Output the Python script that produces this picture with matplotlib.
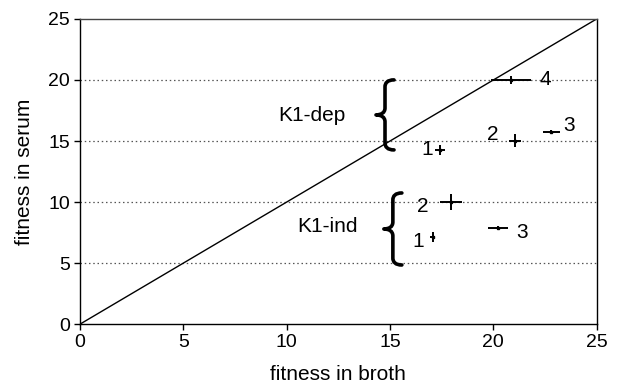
import matplotlib
matplotlib.use("Agg")
import matplotlib.pyplot as plt
import matplotlib.transforms as mtransforms
from matplotlib.path import Path
from matplotlib.patches import PathPatch

plt.rcParams['font.family'] = ['Liberation Sans', 'DejaVu Sans']

# K1-dependent strains
dep_labels = ['1', '2', '3', '4']
dep_broth = [17.42, 21.04, 22.8, 20.84]
dep_serum = [14.28, 15.04, 15.77, 20.0]
dep_xerr = [0.25, 0.3, 0.4, 0.97]
dep_yerr = [0.4, 0.55, 0.12, 0.3]

# K1-independent strains
ind_labels = ['1', '2', '3']
ind_broth = [17.06, 17.93, 20.22]
ind_serum = [7.17, 9.99, 7.89]
ind_xerr = [0.1, 0.53, 0.5]
ind_yerr = [0.4, 0.64, 0.15]

# label positions (data coordinates)
dep_lab_x = [16.82, 19.98, 23.66, 22.5]
dep_lab_y = [14.28, 15.5, 16.3, 20.0]
ind_lab_x = [16.35, 16.6, 21.37]
ind_lab_y = [6.77, 9.6, 7.5]

xticks = [0, 5, 10, 15, 20, 25]
yticks = [0, 5, 10, 15, 20, 25]

fig = plt.figure(figsize=(6.19, 3.86), dpi=100)
ax = fig.add_axes([0.129, 0.160, 0.835, 0.791])

for yv in [5, 10, 15, 20]:
    ax.axhline(yv, color='#555555', linestyle=(0, (1.2, 2.2)), linewidth=0.9, zorder=1)

ax.plot([0, 25], [0, 25], color='black', linewidth=1.0, zorder=2)

ax.errorbar(dep_broth, dep_serum, xerr=dep_xerr, yerr=dep_yerr, fmt='s', ms=1.6,
            color='black', ecolor='black', elinewidth=1.4, capsize=0, zorder=3)
ax.errorbar(ind_broth, ind_serum, xerr=ind_xerr, yerr=ind_yerr, fmt='s', ms=1.6,
            color='black', ecolor='black', elinewidth=1.4, capsize=0, zorder=3)

for lab, x, y in zip(dep_labels, dep_lab_x, dep_lab_y):
    ax.text(x, y, lab, fontsize=15, ha='center', va='center', zorder=4)
for lab, x, y in zip(ind_labels, ind_lab_x, ind_lab_y):
    ax.text(x, y, lab, fontsize=15, ha='center', va='center', zorder=4)

ax.text(11.2, 17.08, 'K1-dep', fontsize=15, ha='center', va='center')
ax.text(12.0, 8.0, 'K1-ind', fontsize=15, ha='center', va='center')


def brace(xc, yc, h):
    # shape in inches, tip pointing left
    w = 0.09
    verts = [
        (w, h), (0.025, h), (0.0, h - 0.03), (0.0, h - 0.07),
        (0.0, 0.07),
        (0.0, 0.02), (-0.04, 0.0), (-w, 0.0),
        (-0.04, 0.0), (0.0, -0.02), (0.0, -0.07),
        (0.0, -h + 0.07),
        (0.0, -h + 0.03), (0.025, -h), (w, -h),
    ]
    codes = [Path.MOVETO, Path.CURVE4, Path.CURVE4, Path.CURVE4,
             Path.LINETO,
             Path.CURVE4, Path.CURVE4, Path.CURVE4,
             Path.CURVE4, Path.CURVE4, Path.CURVE4,
             Path.LINETO,
             Path.CURVE4, Path.CURVE4, Path.CURVE4]
    tr = fig.dpi_scale_trans + mtransforms.ScaledTranslation(xc, yc, ax.transData)
    ax.add_patch(PathPatch(Path(verts, codes), facecolor='none', edgecolor='black',
                           linewidth=2.6, capstyle='round', joinstyle='round',
                           transform=tr, zorder=4))


brace(14.76, 17.14, 0.35)
brace(15.14, 7.8, 0.36)

ax.set_xlim(0, 25)
ax.set_ylim(0, 25)
ax.set_xticks(xticks)
ax.set_yticks(yticks)
ax.tick_params(direction='out', length=4, width=1, labelsize=14, pad=3)
for s in ax.spines.values():
    s.set_linewidth(1.0)
ax.spines['top'].set_color('#444444')
ax.set_xlabel('fitness in broth', fontsize=15, labelpad=10)
ax.set_ylabel('fitness in serum', fontsize=15, labelpad=10)

fig.savefig('out.png', dpi=100)
